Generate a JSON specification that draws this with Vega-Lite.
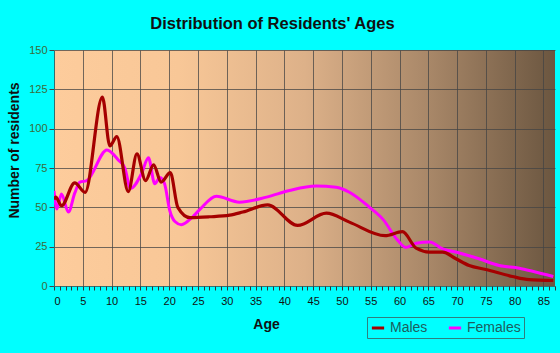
{
  "$schema": "https://vega.github.io/schema/vega-lite/v6.json",
  "width": 501,
  "height": 236,
  "autosize": "none",
  "padding": {"left": 54, "top": 50, "right": 5, "bottom": 67},
  "background": "#00FFFF",
  "title": {
    "text": "Distribution of Residents' Ages",
    "font": "Liberation Sans",
    "fontSize": 16.5,
    "fontWeight": "bold",
    "color": "#111111",
    "anchor": "middle",
    "dx": -32,
    "offset": 12
  },
  "config": {
    "view": {
      "stroke": null,
      "fill": {
        "gradient": "linear",
        "x1": 0, "x2": 1, "y1": 0, "y2": 0,
        "stops": [
          {"offset": 0, "color": "#FDCC9C"},
          {"offset": 0.25, "color": "#F8C797"},
          {"offset": 0.5, "color": "#DDB189"},
          {"offset": 0.75, "color": "#A88768"},
          {"offset": 1, "color": "#6B5640"}
        ]
      }
    }
  },
  "data": {
    "values": [
      {"age": 0, "sex": "Males", "n": 55},
      {"age": 0.3, "sex": "Males", "n": 56.5},
      {"age": 1.3, "sex": "Males", "n": 51},
      {"age": 3.6, "sex": "Males", "n": 65.5},
      {"age": 5.4, "sex": "Males", "n": 59.5},
      {"age": 8.4, "sex": "Males", "n": 120},
      {"age": 9.7, "sex": "Males", "n": 89},
      {"age": 10.9, "sex": "Males", "n": 95},
      {"age": 12.9, "sex": "Males", "n": 60},
      {"age": 14.4, "sex": "Males", "n": 84},
      {"age": 15.9, "sex": "Males", "n": 67},
      {"age": 17.3, "sex": "Males", "n": 77},
      {"age": 18.6, "sex": "Males", "n": 66},
      {"age": 20.2, "sex": "Males", "n": 72},
      {"age": 21.5, "sex": "Males", "n": 50},
      {"age": 23.6, "sex": "Males", "n": 43.5},
      {"age": 27, "sex": "Males", "n": 44},
      {"age": 30.5, "sex": "Males", "n": 45},
      {"age": 32.8, "sex": "Males", "n": 47},
      {"age": 37.1, "sex": "Males", "n": 51.5},
      {"age": 42.3, "sex": "Males", "n": 38.5},
      {"age": 47.3, "sex": "Males", "n": 46.3},
      {"age": 51.3, "sex": "Males", "n": 40.6},
      {"age": 57.5, "sex": "Males", "n": 32},
      {"age": 60.5, "sex": "Males", "n": 34.5},
      {"age": 62.9, "sex": "Males", "n": 24},
      {"age": 65.2, "sex": "Males", "n": 21.5},
      {"age": 67.5, "sex": "Males", "n": 21.5},
      {"age": 69.8, "sex": "Males", "n": 17.3},
      {"age": 72.1, "sex": "Males", "n": 13},
      {"age": 75, "sex": "Males", "n": 10.5},
      {"age": 79.6, "sex": "Males", "n": 6},
      {"age": 82.5, "sex": "Males", "n": 4},
      {"age": 86.7, "sex": "Males", "n": 3.5},
      {"age": 0, "sex": "Females", "n": 60.5},
      {"age": 0.5, "sex": "Females", "n": 49},
      {"age": 1.3, "sex": "Females", "n": 58.5},
      {"age": 2.5, "sex": "Females", "n": 47},
      {"age": 3.6, "sex": "Females", "n": 59},
      {"age": 4.5, "sex": "Females", "n": 66},
      {"age": 5.7, "sex": "Females", "n": 67},
      {"age": 9.2, "sex": "Females", "n": 86.5},
      {"age": 11.2, "sex": "Females", "n": 80},
      {"age": 12.3, "sex": "Females", "n": 75},
      {"age": 13.3, "sex": "Females", "n": 62},
      {"age": 15.2, "sex": "Females", "n": 71.5},
      {"age": 16.4, "sex": "Females", "n": 81.5},
      {"age": 17.5, "sex": "Females", "n": 65},
      {"age": 18.4, "sex": "Females", "n": 69},
      {"age": 19.2, "sex": "Females", "n": 65},
      {"age": 20.1, "sex": "Females", "n": 48},
      {"age": 21, "sex": "Females", "n": 41},
      {"age": 22.1, "sex": "Females", "n": 39},
      {"age": 24.1, "sex": "Females", "n": 44},
      {"age": 25.3, "sex": "Females", "n": 48.5},
      {"age": 28.2, "sex": "Females", "n": 57},
      {"age": 32.2, "sex": "Females", "n": 53.3},
      {"age": 36.9, "sex": "Females", "n": 56.5},
      {"age": 40.9, "sex": "Females", "n": 60.7},
      {"age": 45.5, "sex": "Females", "n": 63.5},
      {"age": 49, "sex": "Females", "n": 62.8},
      {"age": 51.3, "sex": "Females", "n": 59.6},
      {"age": 54.8, "sex": "Females", "n": 50},
      {"age": 57.1, "sex": "Females", "n": 42.5},
      {"age": 59.7, "sex": "Females", "n": 29},
      {"age": 61.1, "sex": "Females", "n": 24.5},
      {"age": 62.9, "sex": "Females", "n": 27.2},
      {"age": 65.2, "sex": "Females", "n": 28},
      {"age": 67.5, "sex": "Females", "n": 23.6},
      {"age": 70.4, "sex": "Females", "n": 21},
      {"age": 73.8, "sex": "Females", "n": 17.3},
      {"age": 77.3, "sex": "Females", "n": 13},
      {"age": 80.8, "sex": "Females", "n": 11.3},
      {"age": 83.1, "sex": "Females", "n": 9.4},
      {"age": 86.7, "sex": "Females", "n": 6}
    ]
  },
  "encoding": {
    "x": {
      "field": "age",
      "type": "quantitative",
      "scale": {"domain": [0, 87], "nice": false, "zero": false},
      "axis": {
        "title": "Age",
        "titleFont": "Liberation Sans",
        "titleFontSize": 14,
        "titleFontWeight": "bold",
        "titleColor": "#111111",
        "titleX": 212,
        "titleY": 38,
        "titleBaseline": "middle",
        "values": [0,1,2,3,4,5,6,7,8,9,10,11,12,13,14,15,16,17,18,19,20,21,22,23,24,25,26,27,28,29,30,31,32,33,34,35,36,37,38,39,40,41,42,43,44,45,46,47,48,49,50,51,52,53,54,55,56,57,58,59,60,61,62,63,64,65,66,67,68,69,70,71,72,73,74,75,76,77,78,79,80,81,82,83,84,85,86,87],
        "labelExpr": "datum.value % 5 === 0 ? datum.label : ''",
        "labelOverlap": false,
        "labelFont": "Liberation Sans",
        "labelFontSize": 11,
        "labelColor": "#111111",
        "labelPadding": 5,
        "tickSize": 4,
        "tickColor": "#333333",
        "domain": false,
        "grid": true,
        "gridColor": "#444444",
        "gridOpacity": {"condition": {"test": "datum.value % 5 === 0 && datum.value > 0", "value": 0.75}, "value": 0}
      }
    },
    "y": {
      "field": "n",
      "type": "quantitative",
      "scale": {"domain": [0, 150], "nice": false},
      "axis": {
        "title": "Number of residents",
        "titleFont": "Liberation Sans",
        "titleFontSize": 14,
        "titleFontWeight": "bold",
        "titleColor": "#111111",
        "titleX": -40,
        "titleY": 100,
        "titleAngle": -90,
        "titleAlign": "center",
        "titleBaseline": "middle",
        "values": [0, 25, 50, 75, 100, 125, 150],
        "labelFont": "Liberation Sans",
        "labelFontSize": 11,
        "labelColor": "#3A6B3A",
        "labelPadding": 2,
        "tickSize": 5,
        "tickColor": "#444444",
        "domain": true,
        "domainColor": "#2F6F6F",
        "grid": true,
        "gridColor": "#444444",
        "gridOpacity": 0.75
      }
    },
    "color": {
      "field": "sex",
      "type": "nominal",
      "scale": {"domain": ["Males", "Females"], "range": ["#A50000", "#FF00FF"]},
      "legend": {
        "title": null,
        "orient": "none",
        "direction": "horizontal",
        "legendX": 313,
        "legendY": 267,
        "symbolType": "stroke",
        "symbolStrokeWidth": 3,
        "symbolSize": 150,
        "labelFont": "Liberation Sans",
        "labelFontSize": 14,
        "labelColor": "#1D5E5E",
        "columnPadding": 14,
        "padding": 3,
        "strokeColor": "#2F7F7F",
        "fillColor": null
      }
    }
  },
  "layer": [
    {
      "transform": [{"filter": "datum.sex === 'Females'"}],
      "mark": {"type": "line", "interpolate": "monotone", "strokeWidth": 3, "clip": true}
    },
    {
      "transform": [{"filter": "datum.sex === 'Males'"}],
      "mark": {"type": "line", "interpolate": "monotone", "strokeWidth": 3.2, "clip": true}
    }
  ]
}
